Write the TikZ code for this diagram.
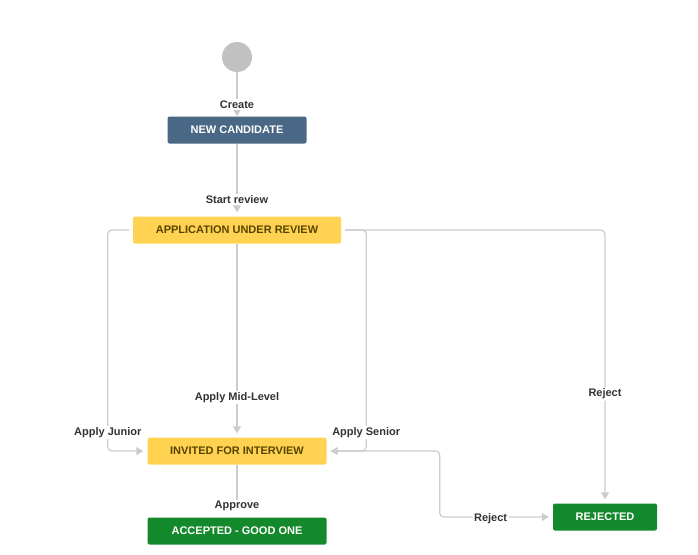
\documentclass[tikz,border=0pt]{standalone}
\usepackage{fontspec}
\setmainfont{Liberation Sans}
\usetikzlibrary{arrows.meta}
\definecolor{todoblue}{HTML}{4A6785}
\definecolor{progyellow}{HTML}{FFD351}
\definecolor{progtext}{HTML}{594300}
\definecolor{donegreen}{HTML}{14892C}
\definecolor{startgray}{HTML}{C1C1C1}
\definecolor{linegray}{HTML}{CCCCCC}
\definecolor{labelgray}{HTML}{333333}
\begin{document}
\begin{tikzpicture}[x=1pt,y=-1pt,node distance=100pt,>={Triangle[width=8pt,length=7pt]}]
  \tikzstyle{status}=[rectangle,rounded corners=2pt,minimum height=27pt,inner sep=0pt,
                      font=\fontsize{11}{13}\selectfont\bfseries]
  \tikzstyle{todo}=[status,fill=todoblue,text=white]
  \tikzstyle{progress}=[status,fill=progyellow,text=progtext]
  \tikzstyle{done}=[status,fill=donegreen,text=white]
  \tikzstyle{line}=[draw=linegray,line width=1.2pt,rounded corners=4pt]
  \tikzstyle{pre}=[line,<-,shorten <=4pt]
  \tikzstyle{post}=[line,->,shorten >=4pt,shorten <=4pt]
  \tikzstyle{tname}=[fill=white,text=labelgray,inner sep=1.5pt,
                     font=\fontsize{11}{13}\selectfont\bfseries]
  \useasboundingbox (0,0) rectangle (698,554);
  \node [circle,fill=startgray,minimum size=30pt,inner sep=0pt] (start) at (237,57) {};
  \node [todo,minimum width=139pt] (nc) [below of=start,node distance=73pt] {NEW CANDIDATE}
    edge [pre,shorten <=0pt] node[tname,pos=0.27] {Create} (start);
  \node [progress,minimum width=208pt] (aur) [below of=nc] {APPLICATION UNDER REVIEW}
    edge [pre] node[tname,pos=0.23] {Start review} (nc);
  \node [progress,minimum width=179pt] (inv) [below of=aur,node distance=221pt] {INVITED FOR INTERVIEW}
    edge [pre] node[tname,pos=0.205] {Apply Mid-Level} (aur);
  \node [done,minimum width=179pt] (acc) [below of=inv,node distance=80pt] {ACCEPTED - GOOD ONE}
    edge [pre] node[tname,pos=0.21] {Approve} (inv);
  \node [done,minimum width=104pt] (rej) at (605,517) {REJECTED};
  % side transitions
  \draw [post] (aur.west) -- ++(-25,0) |- node[tname,pos=0.458] {Apply Junior} (inv.west);
  \draw [post] (aur.east) -| node[tname,pos=0.8] {Reject} (rej.north);
  \draw [post] (aur.east) -- ++(25,0) |- node[tname,pos=0.458] {Apply Senior} (inv.east);
  \draw [post] (inv.east) -- ++(113,0) |- node[tname,pos=0.725,yshift=-1.5pt] {Reject} (rej.west);
\end{tikzpicture}
\end{document}
